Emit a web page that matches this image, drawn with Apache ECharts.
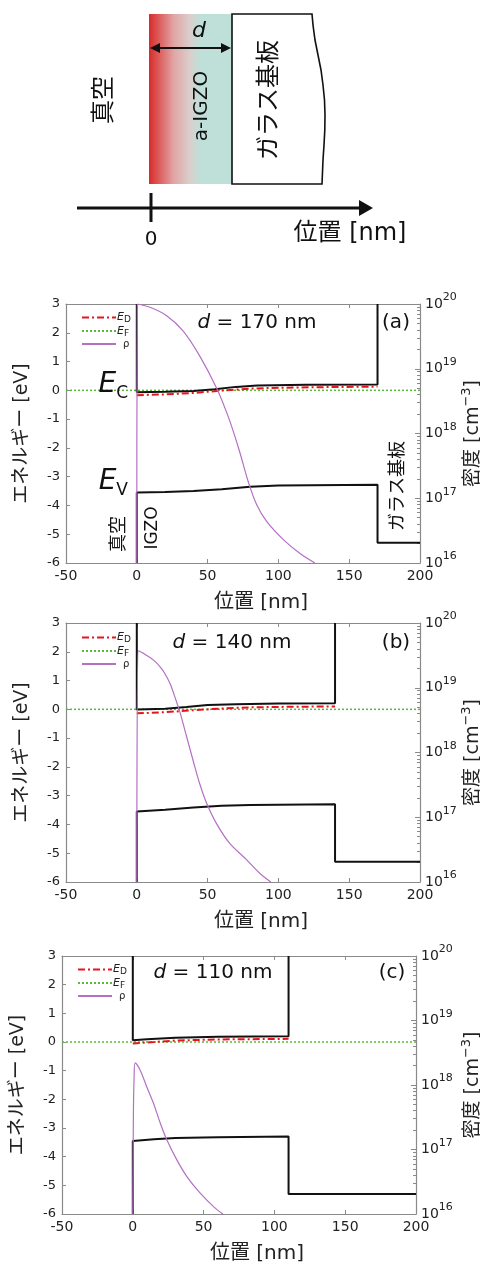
<!DOCTYPE html>
<html>
<head>
<meta charset="utf-8">
<title>a-IGZO バンド図</title>
<script src="https://cdn.jsdelivr.net/npm/echarts@6.0.0/dist/echarts.min.js"></script>
<style>
  html, body { margin: 0; padding: 0; background: #fff; }
  #chart { width: 480px; height: 1264px; }
</style>
</head>
<body>
<div id="chart"></div>
<script>
// 図から読み取った値
const thicknessList = [170, 140, 110]
const panelTags = ['(a)', '(b)', '(c)']
const xRange = [-50, 200]
const energyRange = [-6, 3]
const densityRange = [1e16, 1e20]

// (a) d = 170 nm
const ecA = [[0, 3], [0, -0.07], [20, -0.05], [40, -0.02], [55, 0.04], [70, 0.12], [85, 0.17], [120, 0.19], [170, 0.2], [170, 3]]
const edA = [[0, -0.17], [20, -0.14], [40, -0.09], [60, -0.01], [80, 0.06], [100, 0.09], [130, 0.11], [170, 0.13]]
const evA = [[0, -6], [0, -3.55], [20, -3.53], [40, -3.5], [60, -3.44], [80, -3.35], [100, -3.31], [170, -3.28], [170, -5.3], [200, -5.3]]
const rhoA = [[0, 1e16], [0.4, 1e20], [9.3, 8.9e19], [21.1, 6.6e19], [32.8, 3.8e19], [44.6, 1.55e19], [56.4, 5.0e18], [63.5, 2.1e18],
  [68.2, 1.07e18], [72.9, 5.0e17], [78.7, 1.8e17], [84.6, 8.0e16], [91.7, 4.4e16], [103.5, 2.3e16], [115.3, 1.4e16], [125.8, 1.0e16]]

// (b) d = 140 nm
const ecB = [[0, 3], [0, -0.01], [20, 0.02], [35, 0.08], [50, 0.15], [70, 0.18], [100, 0.2], [140, 0.21], [140, 3]]
const edB = [[0, -0.14], [20, -0.1], [40, -0.03], [60, 0.03], [80, 0.07], [110, 0.09], [140, 0.1]]
const evB = [[0, -6], [0, -3.55], [20, -3.49], [40, -3.41], [60, -3.35], [80, -3.32], [140, -3.3], [140, -5.3], [200, -5.3]]
const rhoB = [[0, 1e16], [1.1, 3.7e19], [7.0, 3.15e19], [12.9, 2.55e19], [17.6, 1.95e19], [21.1, 1.48e19], [23.9, 1.1e19], [27.0, 7.1e18],
  [30.6, 4.1e18], [35.2, 1.75e18], [40.0, 7.2e17], [44.6, 3.2e17], [49.4, 1.63e17], [56.4, 7.9e16], [65.8, 3.9e16], [77.6, 2.2e16],
  [87.0, 1.35e16], [94.6, 1.0e16]]

// (c) d = 110 nm
const ecC = [[0, 3], [0, 0.06], [10, 0.1], [30, 0.15], [60, 0.18], [110, 0.2], [110, 3]]
const edC = [[0, -0.05], [15, 0.0], [30, 0.05], [60, 0.09], [110, 0.11]]
const evC = [[0, -6], [0, -3.45], [15, -3.39], [30, -3.35], [60, -3.32], [110, -3.3], [110, -5.3], [200, -5.3]]
const rhoC = [[0, 1e16], [0.4, 3e17], [0.9, 1.3e18], [1.7, 2.2e18], [5.2, 1.7e18], [9.9, 9.3e17], [14.6, 5.2e17], [19.3, 2.6e17],
  [24.1, 1.4e17], [31.1, 6.9e16], [38.2, 3.8e16], [47.6, 2.1e16], [57.0, 1.3e16], [63.6, 1.0e16]]

const fermiLevel = [[-50, 0], [200, 0]]

const ecList = [ecA, ecB, ecC]
const edList = [edA, edB, edC]
const evList = [evA, evB, evC]
const rhoList = [rhoA, rhoB, rhoC]

// 配置
const FONT = "'DejaVu Sans', 'Noto Sans CJK JP', sans-serif"
const grids = [
  { left: 66, right: 60, top: 304, height: 259, outerBoundsMode: 'none' },
  { left: 66, right: 60, top: 623, height: 259, outerBoundsMode: 'none' },
  { left: 62, right: 64, top: 956, height: 258, outerBoundsMode: 'none' }
]
const rightNameGap = [66, 66, 70]
const legendPos = [{ left: 76, top: 307 }, { left: 76, top: 627 }, { left: 72, top: 959 }]
const titlePos = [{ x: 257, y: 323, tx: 396 }, { x: 232, y: 643, tx: 396 }, { x: 213, y: 973, tx: 392 }]

const axisColor = '#8a8a8a'
const labelColor = '#222'

const chart = echarts.init(document.getElementById('chart'))

const xAxis = []
const yAxis = []
const series = []
const legend = []

grids.forEach((g, i) => {
  // 下と上（上は目盛りのみ）
  xAxis.push({
    gridIndex: i, type: 'value', min: xRange[0], max: xRange[1], interval: 50, position: 'bottom',
    name: '位置 [nm]', nameLocation: 'middle', nameGap: 30,
    nameTextStyle: { fontFamily: FONT, fontSize: 20, color: labelColor, padding: [0, 0, 0, 36] },
    axisLine: { onZero: false, lineStyle: { color: axisColor, width: 1.2 } },
    axisTick: { inside: true, length: 4, lineStyle: { color: axisColor } },
    axisLabel: { fontFamily: FONT, fontSize: 14, color: labelColor, margin: 6 },
    splitLine: { show: false }
  })
  xAxis.push({
    gridIndex: i, type: 'value', min: xRange[0], max: xRange[1], interval: 50, position: 'top',
    axisLine: { onZero: false, lineStyle: { color: axisColor, width: 1.2 } },
    axisTick: { inside: true, length: 4, lineStyle: { color: axisColor } },
    axisLabel: { show: false },
    splitLine: { show: false }
  })
  yAxis.push({
    gridIndex: i, type: 'value', min: energyRange[0], max: energyRange[1], interval: 1, position: 'left',
    name: 'エネルギー [eV]', nameLocation: 'middle', nameGap: 34,
    nameTextStyle: { fontFamily: FONT, fontSize: 19, color: labelColor },
    axisLine: { onZero: false, lineStyle: { color: axisColor, width: 1.2 } },
    axisTick: { inside: true, length: 4, lineStyle: { color: axisColor } },
    axisLabel: { fontFamily: FONT, fontSize: 13, color: labelColor, margin: 6 },
    splitLine: { show: false }
  })
  yAxis.push({
    gridIndex: i, type: 'log', logBase: 10, min: densityRange[0], max: densityRange[1], position: 'right',
    name: '密度 [cm{s|−3}]', nameLocation: 'middle', nameGap: rightNameGap[i], nameMoveOverlap: false,
    nameTextStyle: {
      fontFamily: FONT, fontSize: 19, color: labelColor, lineHeight: 26, verticalAlign: 'bottom',
      rich: { s: { fontFamily: FONT, fontSize: 13, lineHeight: 13, verticalAlign: 'top', color: labelColor } }
    },
    axisLine: { onZero: false, lineStyle: { color: axisColor, width: 1.2 } },
    axisTick: { inside: true, length: 5, lineStyle: { color: axisColor } },
    minorTick: { show: true, splitNumber: 9, length: 3, lineStyle: { color: axisColor } },
    axisLabel: {
      margin: 5,
      formatter: v => '{b|10}{s|' + Math.round(Math.log10(v)) + '}',
      rich: {
        b: { fontFamily: FONT, fontSize: 14, color: labelColor, lineHeight: 24 },
        s: { fontFamily: FONT, fontSize: 11, color: labelColor, lineHeight: 11, verticalAlign: 'top' }
      }
    },
    splitLine: { show: false }
  })

  const xi = i * 2
  const yi = i * 2
  series.push({
    name: 'Ec', type: 'line', xAxisIndex: xi, yAxisIndex: yi, data: ecList[i],
    showSymbol: false, lineStyle: { color: '#111', width: 2 }, z: 3
  })
  series.push({
    name: 'Ev', type: 'line', xAxisIndex: xi, yAxisIndex: yi, data: evList[i],
    showSymbol: false, lineStyle: { color: '#111', width: 2 }, z: 3
  })
  series.push({
    name: 'ED', type: 'line', xAxisIndex: xi, yAxisIndex: yi, data: edList[i],
    showSymbol: false, symbol: 'none', lineStyle: { color: '#e8141c', width: 2, type: [7, 3, 2, 3] },
    itemStyle: { color: '#e8141c' }, z: 4
  })
  series.push({
    name: 'EF', type: 'line', xAxisIndex: xi, yAxisIndex: yi, data: fermiLevel,
    showSymbol: false, symbol: 'none', lineStyle: { color: '#5db83a', width: 1.5, type: [2, 2] },
    itemStyle: { color: '#5db83a' }, z: 2
  })
  series.push({
    name: 'rho', type: 'line', xAxisIndex: xi, yAxisIndex: yi + 1, data: rhoList[i],
    showSymbol: false, symbol: 'none', smooth: 0.35,
    lineStyle: { color: '#b470c4', width: 1.2 }, itemStyle: { color: '#b470c4' }, z: 5
  })

  legend.push({
    orient: 'vertical', left: legendPos[i].left, top: legendPos[i].top,
    itemWidth: 34, itemHeight: 10, itemGap: 1, selectedMode: false,
    itemStyle: { opacity: 0 },
    data: ['ED', 'EF', 'rho'],
    formatter: n => n === 'ED' ? '{e|E}{s|D}' : n === 'EF' ? '{e|E}{s|F}' : '{r|ρ}',
    textStyle: {
      fontFamily: FONT, fontSize: 10, color: labelColor, padding: [0, 0, 0, -4],
      rich: {
        e: { fontFamily: FONT, fontSize: 11, fontStyle: 'italic', lineHeight: 14, color: labelColor },
        s: { fontFamily: FONT, fontSize: 9, lineHeight: 9, verticalAlign: 'bottom', color: labelColor },
        r: { fontFamily: FONT, fontSize: 10, lineHeight: 14, color: labelColor, padding: [0, 0, 0, 6] }
      }
    }
  })
})

// 注釈テキスト
const graphic = []
titlePos.forEach((p, i) => {
  graphic.push({
    type: 'text', x: p.x, y: p.y, z: 10,
    style: {
      text: '{d|d} = ' + thicknessList[i] + ' nm', align: 'center', verticalAlign: 'middle',
      font: '20px ' + FONT, fill: '#111',
      rich: { d: { fontFamily: FONT, fontSize: 20, fontStyle: 'italic', fill: '#111' } }
    }
  })
  graphic.push({
    type: 'text', x: p.tx, y: p.y, z: 10,
    style: { text: panelTags[i], align: 'center', verticalAlign: 'middle', font: '20px ' + FONT, fill: '#111' }
  })
})

const subLabel = (x, y, sub) => ({
  type: 'text', x: x, y: y, z: 10,
  style: {
    text: '{e|E}{c|' + sub + '}', align: 'right', verticalAlign: 'middle',
    rich: {
      e: { fontFamily: FONT, fontSize: 28, fontStyle: 'italic', lineHeight: 34, fill: '#111' },
      c: { fontFamily: FONT, fontSize: 17, lineHeight: 17, verticalAlign: 'bottom', fill: '#111' }
    }
  }
})
graphic.push(subLabel(128, 385, 'C'))
graphic.push(subLabel(128, 482, 'V'))

const vText = (x, y, text, size) => ({
  type: 'text', x: x, y: y, rotation: Math.PI / 2, z: 10,
  style: { text: text, align: 'center', verticalAlign: 'middle', font: size + 'px ' + FONT, fill: '#111' }
})
graphic.push(vText(119, 534, '真空', 18))
graphic.push(vText(153, 528, 'IGZO', 17))
graphic.push(vText(398, 486, 'ガラス基板', 18))

// 上部の模式図
graphic.push({
  type: 'rect', shape: { x: 149, y: 14, width: 83, height: 170 },
  style: {
    fill: new echarts.graphic.LinearGradient(0, 0, 1, 0, [
      { offset: 0, color: '#d92b2b' },
      { offset: 0.3, color: '#e2a5a5' },
      { offset: 0.5, color: '#d8d0cc' },
      { offset: 0.62, color: '#bee0d9' },
      { offset: 1, color: '#bee0d9' }
    ])
  }
})
graphic.push({
  type: 'polygon',
  shape: {
    points: [[232, 14], [312, 14], [313, 25], [315, 40], [318, 55], [321, 70], [323, 85], [324.5, 100], [325, 115],
      [324.8, 130], [324, 145], [323, 160], [322.5, 172], [322, 184], [232, 184]]
  },
  style: { fill: '#fff', stroke: '#111', lineWidth: 1.6 }
})
graphic.push({ type: 'line', shape: { x1: 156, y1: 48, x2: 225, y2: 48 }, style: { stroke: '#111', lineWidth: 2.2 } })
graphic.push({ type: 'polygon', shape: { points: [[150, 48], [160, 43], [160, 53]] }, style: { fill: '#111' } })
graphic.push({ type: 'polygon', shape: { points: [[231, 48], [221, 43], [221, 53]] }, style: { fill: '#111' } })
graphic.push({
  type: 'text', x: 199, y: 31,
  style: { text: 'd', align: 'center', verticalAlign: 'middle', font: 'italic 22px ' + FONT, fill: '#111' }
})
graphic.push(vText(202, 106, 'a-IGZO', 20))
graphic.push(vText(270, 100, 'ガラス基板', 24))
graphic.push(vText(105, 100, '真空', 24))
graphic.push({ type: 'line', shape: { x1: 77, y1: 208, x2: 362, y2: 208 }, style: { stroke: '#111', lineWidth: 3 } })
graphic.push({ type: 'polygon', shape: { points: [[359, 200], [373, 208], [359, 216]] }, style: { fill: '#111' } })
graphic.push({ type: 'line', shape: { x1: 151, y1: 193, x2: 151, y2: 222 }, style: { stroke: '#111', lineWidth: 3 } })
graphic.push({
  type: 'text', x: 151, y: 240,
  style: { text: '0', align: 'center', verticalAlign: 'middle', font: '20px ' + FONT, fill: '#111' }
})
graphic.push({
  type: 'text', x: 350, y: 234,
  style: { text: '位置 [nm]', align: 'center', verticalAlign: 'middle', font: '24px ' + FONT, fill: '#111' }
})

chart.setOption({
  animation: false,
  backgroundColor: '#fff',
  grid: grids,
  xAxis: xAxis,
  yAxis: yAxis,
  legend: legend,
  series: series,
  graphic: graphic
})
</script>
</body>
</html>
